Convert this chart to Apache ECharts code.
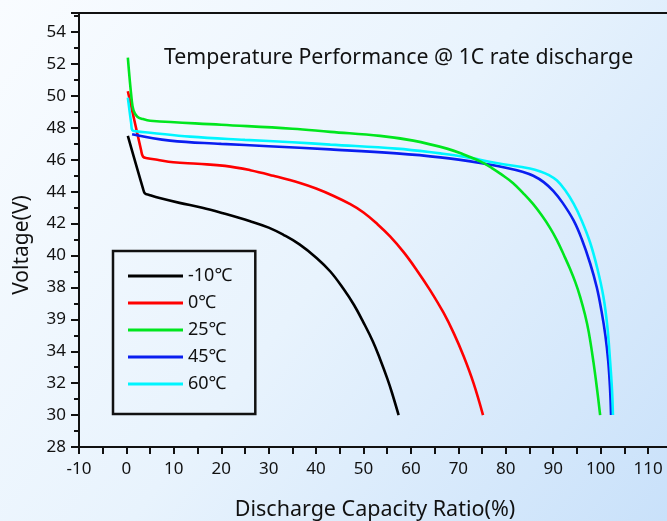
<!DOCTYPE html>
<html>
<head>
<meta charset="utf-8">
<script src="https://cdn.jsdelivr.net/npm/echarts@6/dist/echarts.min.js"></script>
<style>
html,body{margin:0;padding:0;}
#chart{width:667px;height:521px;}
</style>
</head>
<body>
<div id="chart"></div>
<script>
// ---- data ----
var seriesNames = ['-10℃', '0℃', '25℃', '45℃', '60℃'];
var yTickValues = [28, 30, 32, 34, 36, 38, 40, 42, 44, 46, 48, 50, 52, 54];
var yTickLabels = ['28', '30', '32', '34', '39', '38', '40', '42', '44', '46', '48', '50', '52', '54'];
var xTickValues = [-10, 0, 10, 20, 30, 40, 50, 60, 70, 80, 90, 100, 110];
var titleText = 'Temperature Performance @ 1C rate discharge';
var xName = 'Discharge Capacity Ratio(%)';
var yName = 'Voltage(V)';

var dataM10 = [[0.3,47.5],[3.5,44.2],[3.9,43.9],[4.8,43.8],[7,43.6],[11.2,43.3],[16,43.0],[20.4,42.65],[26.1,42.15],[30,41.75],[33.1,41.3],[36.5,40.7],[40.1,39.85],[43,39.0],[45.8,37.9],[48,36.9],[50,35.8],[52,34.6],[53.5,33.5],[55,32.3],[56,31.4],[57.4,30.0]];
var data0 = [[0.3,50.3],[3.1,46.6],[3.5,46.2],[4.4,46.1],[6.5,46.0],[9.9,45.85],[15,45.75],[20.8,45.62],[26.1,45.35],[31,45.0],[36.6,44.55],[40,44.2],[43.6,43.75],[47,43.25],[50,42.7],[53,41.95],[55.6,41.2],[58.5,40.2],[61.2,39.1],[64,37.85],[66.9,36.4],[69,35.15],[71.1,33.7],[73.2,32.0],[75.2,30.0]];
var data25 = [[0.3,52.4],[1.1,49.8],[1.5,49.1],[2.3,48.7],[3.5,48.55],[5,48.45],[20,48.2],[35,47.95],[43,47.75],[53.5,47.5],[60.5,47.2],[67.6,46.7],[71,46.35],[74.6,45.9],[77,45.5],[79,45.1],[81.5,44.55],[83.7,43.9],[85.7,43.25],[87.5,42.55],[89.3,41.75],[90.8,40.95],[92.3,40.0],[93.5,39.2],[94.7,38.3],[95.7,37.4],[96.7,36.3],[97.5,35.2],[98.5,33.3],[99.3,31.5],[99.9,30.0]];
var data45 = [[1.2,47.6],[9.2,47.2],[20,47.0],[30,46.85],[43,46.65],[57,46.4],[66.2,46.15],[74.6,45.8],[80,45.5],[83.5,45.25],[85.8,45.0],[88,44.6],[90,44.05],[92,43.3],[94.3,42.2],[96,41.05],[97.8,39.5],[99.2,38.0],[100.2,36.5],[101,35.0],[101.6,33.4],[102,31.6],[102.2,30.0]];
var data60 = [[0.3,49.9],[1.0,48.3],[1.25,47.85],[2.2,47.78],[5,47.7],[13.4,47.45],[25,47.25],[35,47.1],[43,46.95],[57,46.7],[66.2,46.4],[71.1,46.2],[78,45.8],[85.1,45.45],[87.3,45.27],[89,45.05],[90.8,44.7],[92.5,44.1],[94.3,43.25],[96,42.2],[97.8,40.8],[99.3,39.2],[100.6,37.4],[101.4,35.6],[102,33.4],[102.4,31.6],[102.6,30.0]];

var seriesData = [dataM10, data0, data25, data45, data60];
var colors = ['#000000', '#ff0000', '#00e61e', '#0a1ef0', '#00f5ff'];
var drawOrder = [0, 1, 3, 4, 2];

var FONT = 'Noto Sans';
var chart = echarts.init(document.getElementById('chart'));

var series = drawOrder.map(function (i) {
  return {
    name: seriesNames[i],
    type: 'line',
    data: seriesData[i],
    showSymbol: false,
    smooth: 0.4,
    lineStyle: { color: colors[i], width: 2.6 },
    itemStyle: { color: colors[i] },
    z: 3
  };
});

chart.setOption({
  backgroundColor: {
    type: 'linear', x: 0, y: 0, x2: 1, y2: 1,
    colorStops: [{ offset: 0, color: '#f9fcff' }, { offset: 0.5, color: '#e8f3fd' }, { offset: 1, color: '#c9e1fa' }]
  },
  animation: false,
  title: {
    text: titleText,
    left: 159, top: 42,
    textStyle: { fontFamily: FONT, fontSize: 21.3, fontWeight: 'normal', color: '#111' }
  },
  graphic: [{
    type: 'text', x: 375, y: 510,
    style: { text: xName, fontFamily: FONT, fontSize: 21.5, fill: '#111', align: 'center', verticalAlign: 'middle' }
  }, {
    type: 'text', x: 22, y: 245, rotation: Math.PI / 2,
    style: { text: yName, fontFamily: FONT, fontSize: 21, fill: '#111', align: 'center', verticalAlign: 'middle' }
  }],
  legend: {
    orient: 'vertical',
    left: 113, top: 251,
    data: seriesNames,
    icon: 'rect',
    itemWidth: 55, itemHeight: 3,
    itemGap: 7,
    itemStyle: { borderWidth: 0 },
    borderColor: '#111', borderWidth: 2.5,
    padding: [15, 23, 20, 15],
    textStyle: { fontFamily: FONT, fontSize: 18, color: '#111', lineHeight: 20 }
  },
  grid: { left: 79, right: 0, top: 13, bottom: 74, containLabel: false, outerBoundsMode: 'none' },
  xAxis: [{
    type: 'value',
    min: -10, max: 114, interval: 10,
    axisLine: { show: true, onZero: false, lineStyle: { color: '#111', width: 2 } },
    axisTick: { show: true, length: 7, lineStyle: { color: '#111', width: 2 }, customValues: xTickValues },
    minorTick: { show: true, splitNumber: 2, length: 7, lineStyle: { color: '#111', width: 2 } },
    splitLine: { show: false },
    axisLabel: { fontFamily: FONT, fontSize: 17, color: '#111', margin: 14, customValues: xTickValues }
  }, {
    type: 'value', position: 'top',
    min: -10, max: 114,
    axisLine: { show: true, onZero: false, lineStyle: { color: '#111', width: 2 } },
    axisTick: { show: false }, axisLabel: { show: false }, splitLine: { show: false }
  }],
  yAxis: {
    type: 'value',
    min: 28, max: 55.2, interval: 2,
    axisLine: { show: true, onZero: false, lineStyle: { color: '#111', width: 2 } },
    axisTick: { show: true, length: 8, lineStyle: { color: '#111', width: 2 } },
    minorTick: { show: true, splitNumber: 2, length: 5, lineStyle: { color: '#111', width: 2 } },
    splitLine: { show: false },
    axisLabel: {
      fontFamily: FONT, fontSize: 17, color: '#111', margin: 13,
      formatter: function (v) {
        var idx = yTickValues.indexOf(v);
        return idx >= 0 ? yTickLabels[idx] : '';
      }
    }
  },
  series: series
});
</script>
</body>
</html>
